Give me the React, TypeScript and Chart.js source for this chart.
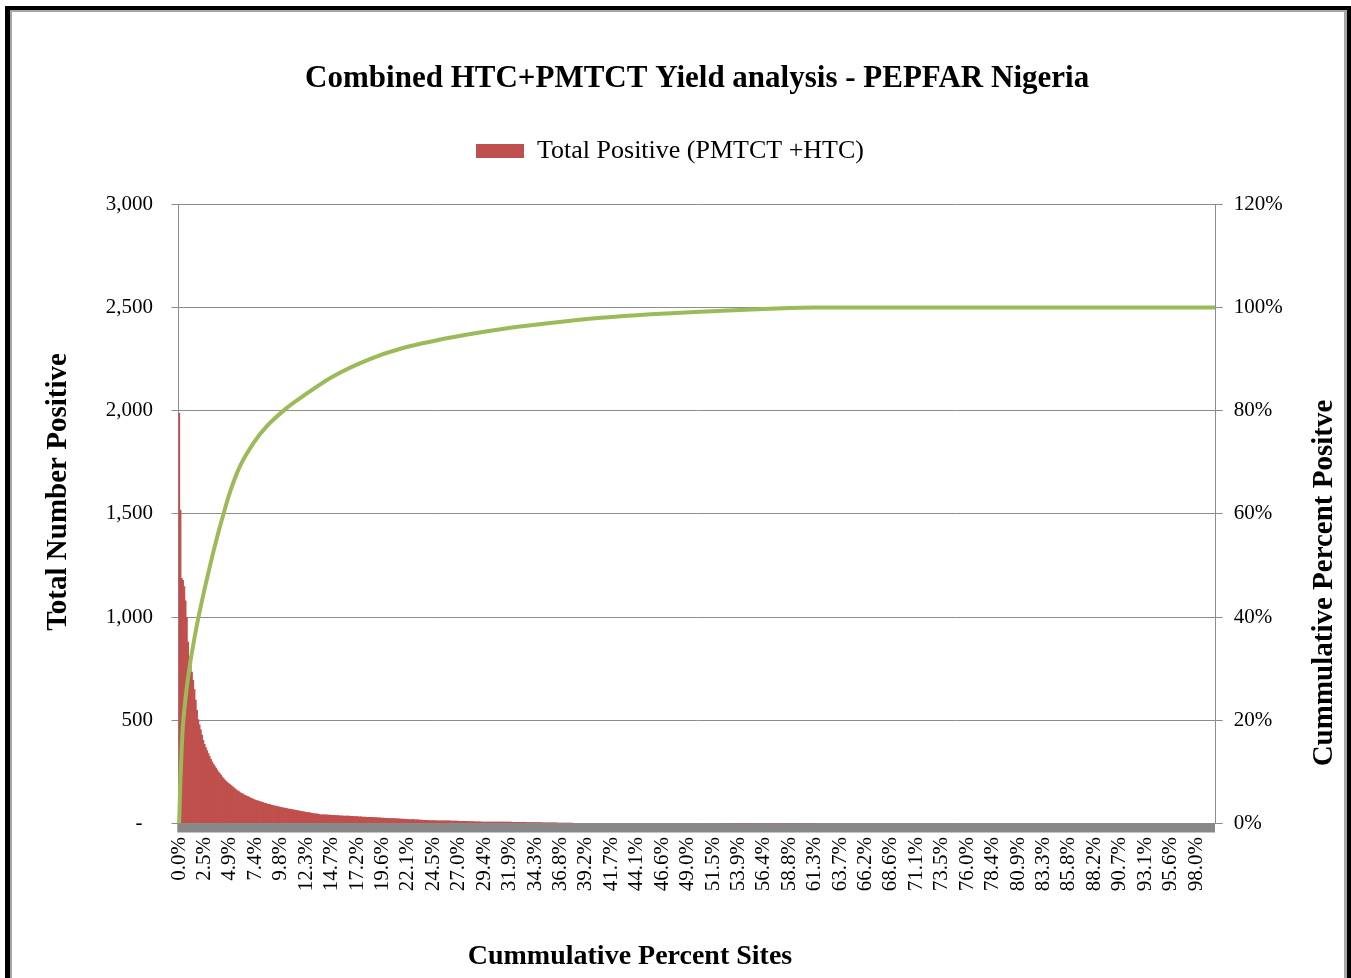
import React, { useEffect, useRef } from 'react';
import { Chart, registerables } from 'chart.js';

Chart.register(...registerables);

// ---------------- data ----------------
const chartTitle = 'Combined HTC+PMTCT Yield analysis - PEPFAR Nigeria';
const barSeriesLabel = 'Total Positive (PMTCT +HTC)';
const lineSeriesLabel = 'Cumulative Percent Positive';
const xAxisTitle = 'Cummulative Percent Sites';
const yAxisTitle = 'Total Number Positive';
const y1AxisTitle = 'Cummulative Percent Positve';

// sites are sorted by number of positives, one category per site
const siteCount = 816;
const labelEvery = 20;

const xTickLabels = [
  '0.0%', '2.5%', '4.9%', '7.4%', '9.8%', '12.3%', '14.7%', '17.2%', '19.6%', '22.1%',
  '24.5%', '27.0%', '29.4%', '31.9%', '34.3%', '36.8%', '39.2%', '41.7%', '44.1%', '46.6%',
  '49.0%', '51.5%', '53.9%', '56.4%', '58.8%', '61.3%', '63.7%', '66.2%', '68.6%', '71.1%',
  '73.5%', '76.0%', '78.4%', '80.9%', '83.3%', '85.8%', '88.2%', '90.7%', '93.1%', '95.6%',
  '98.0%',
];
const leftTickLabels = ['-', '500', '1,000', '1,500', '2,000', '2,500', '3,000'];
const rightTickLabels = ['0%', '20%', '40%', '60%', '80%', '100%', '120%'];

// positives of the highest-yield sites (sites 0..110)
const headPositives = [
  1990, 1520, 1190, 1180, 1150, 1080, 1000, 880, 810, 770,
  735, 695, 650, 600, 550, 505, 480, 455, 430, 405,
  385, 370, 355, 340, 326, 313, 300, 290, 280, 270,
  260, 251, 243, 235, 227, 219, 212, 206, 200, 195,
  190, 185, 180, 175, 170, 165, 160, 156, 152, 148,
  145, 141, 138, 135, 132, 129, 126, 123, 120, 118,
  115, 113, 111, 109, 107, 105, 103, 101, 99, 97,
  95, 94, 92, 90, 89, 87, 86, 84, 83, 81,
  80, 78, 77, 76, 75, 74, 72, 71, 70, 69,
  68, 67, 66, 64, 63, 62, 60, 59, 58, 57,
  56, 55, 54, 53, 52, 51, 50, 49, 48, 47,
  46,
];
// remaining sites: positives and how many sites share that value
const tailPositives = [
  44, 43, 42, 41, 40, 39, 38, 37, 36, 35, 34, 33, 32, 31, 30, 29, 28, 27,
  26, 25, 24, 23, 22, 21, 20, 19, 18, 17, 16, 15, 14, 13, 12, 11, 10,
  9, 8, 7, 6, 5, 4, 3, 2, 1, 0,
];
const tailSiteCounts = [
  3, 3, 3, 3, 3, 3, 3, 3, 3, 3, 3, 3, 3, 3, 3, 3, 3, 3,
  3, 3, 3, 3, 3, 3, 3, 3, 3, 4, 6, 6, 6, 6, 6, 6, 6,
  12, 12, 12, 12, 12, 12, 50, 70, 71, 315,
];

// cumulative percent of positives, read at selected sites
const cumSiteIndex = [
  0, 1, 2, 3, 4, 5, 6, 7, 8, 9, 10, 12, 14, 16, 18, 21, 25, 30, 34, 40,
  48, 59, 69, 85, 95, 120, 150, 174, 214, 253, 292, 332, 371, 410, 450, 500,
  815,
];
const cumPercent = [
  0, 8.5, 14.5, 19, 21.8, 24.2, 26.3, 28.2, 30, 31.6, 33.1, 35.9, 38.5, 40.9, 43.2, 46.5, 50.7, 55.6, 59.2, 64.2,
  69.3, 73.9, 77, 80.6, 82.4, 86.5, 90, 92, 94.2, 95.8, 97, 98, 98.7, 99.2, 99.6, 100,
  100,
];

// ---------------- styles ----------------
const SERIF = "'Liberation Serif', 'Times New Roman', serif";
const BAR_COLOR = '#c0504d';
const LINE_COLOR = '#9bbb59';
const GRID = '#8c8c8c';

export default function App() {
  const canvasRef = useRef<HTMLCanvasElement | null>(null);

  useEffect(() => {
    const positives: number[] = [...headPositives];
    tailPositives.forEach((v, k) => {
      for (let j = 0; j < tailSiteCounts[k]; j++) positives.push(v);
    });
    const siteValues = positives.slice(0, siteCount);
    const sites = siteValues.map((_, i) => i);
    const linePoints = cumSiteIndex.map((s, k) => ({ x: s, y: cumPercent[k] }));

    const axisBand = {
      id: 'axisBand',
      beforeDatasetsDraw(chart: any) {
        const { ctx, chartArea: a } = chart;
        ctx.save();
        ctx.fillStyle = '#888888';
        ctx.fillRect(a.left - 1.2, a.bottom, a.right - a.left + 0.5, 9);
        ctx.restore();
      },
    };

    const axisTitles = {
      id: 'axisTitles',
      afterDraw(chart: any) {
        const ctx = chart.ctx as CanvasRenderingContext2D;
        ctx.save();
        ctx.fillStyle = '#000';
        ctx.textAlign = 'center';
        ctx.textBaseline = 'middle';
        ctx.font = `bold 29px ${SERIF}`;
        ctx.translate(59, 492);
        ctx.rotate(-Math.PI / 2);
        ctx.fillText(yAxisTitle, 0, 0);
        ctx.setTransform(1, 0, 0, 1, 0, 0);
        ctx.translate(1325, 583);
        ctx.rotate(-Math.PI / 2);
        ctx.fillText(y1AxisTitle, 0, 0);
        ctx.setTransform(1, 0, 0, 1, 0, 0);
        ctx.font = `bold 28px ${SERIF}`;
        ctx.fillText(xAxisTitle, 630, 957);
        ctx.restore();
      },
    };

    const tickFont = { family: SERIF, size: 21 };

    const chart = new Chart(canvasRef.current as HTMLCanvasElement, {
      type: 'bar',
      data: {
        labels: sites,
        datasets: [
          {
            type: 'bar',
            label: barSeriesLabel,
            data: siteValues,
            backgroundColor: BAR_COLOR,
            borderWidth: 0,
            barPercentage: 1.6,
            categoryPercentage: 1,
            yAxisID: 'y',
            order: 2,
          } as any,
          {
            type: 'line',
            label: lineSeriesLabel,
            data: linePoints as any,
            borderColor: LINE_COLOR,
            backgroundColor: LINE_COLOR,
            borderWidth: 4,
            pointRadius: 0,
            cubicInterpolationMode: 'monotone',
            yAxisID: 'y1',
            order: 1,
          } as any,
        ],
      },
      plugins: [axisBand, axisTitles],
      options: {
        responsive: false,
        animation: false,
        layout: { padding: { left: 0, right: 11, top: 0, bottom: 0 } },
        plugins: {
          title: {
            display: true,
            text: chartTitle,
            fullSize: false,
            color: '#000',
            font: { family: SERIF, size: 31, weight: 'bold' },
            padding: { top: 60.4, bottom: 30.4 },
          },
          legend: {
            display: true,
            position: 'top',
            labels: {
              filter: (item: any) => item.datasetIndex === 0,
              boxWidth: 48,
              boxHeight: 14,
              padding: 10,
              color: '#000',
              font: { family: SERIF, size: 26 },
            },
          },
          subtitle: {
            display: true,
            text: ' ',
            position: 'top',
            weight: 500,
            font: { size: 12 },
            padding: { top: 0, bottom: 15.9 },
          } as any,
          tooltip: { enabled: false },
        },
        scales: {
          x: {
            type: 'category',
            offset: true,
            grid: { display: false, drawTicks: false },
            border: { display: false },
            ticks: {
              autoSkip: false,
              minRotation: 90,
              maxRotation: 90,
              padding: 13.5,
              color: '#000',
              font: tickFont,
              callback: (_v: any, i: number) => (i % labelEvery === 0 ? xTickLabels[i / labelEvery] ?? '' : ''),
            },
            afterFit: (s: any) => {
              s.height = 154.5;
            },
          },
          y: {
            position: 'left',
            min: 0,
            max: 3000,
            ticks: {
              stepSize: 500,
              padding: 18.5,
              color: '#000',
              font: tickFont,
              callback: (_v: any, i: number) => (leftTickLabels[i] === '-' ? '-  ' : leftTickLabels[i]),
            },
            grid: { color: GRID, lineWidth: 1, tickLength: 7 },
            border: { display: true, color: GRID, width: 1 },
            afterFit: (s: any) => {
              s.width = 178.5;
            },
          },
          y1: {
            position: 'right',
            min: 0,
            max: 120,
            ticks: {
              stepSize: 20,
              padding: 11,
              color: '#000',
              font: tickFont,
              callback: (_v: any, i: number) => rightTickLabels[i],
            },
            grid: { drawOnChartArea: false, color: GRID, lineWidth: 1, tickLength: 7 },
            border: { display: true, color: GRID, width: 1 },
            afterFit: (s: any) => {
              s.width = 124.3;
            },
          },
        },
      } as any,
    });
    return () => chart.destroy();
  }, []);

  return (
    <div style={{ position: 'fixed', left: 0, top: 0, width: 1351, height: 978, overflow: 'hidden', background: '#fff' }}>
      <canvas ref={canvasRef} width={1351} height={978} style={{ position: 'absolute', left: 0, top: 0 }} />
      <div
        style={{
          position: 'absolute', left: 5, top: 6, width: 1346, height: 1200, boxSizing: 'border-box',
          borderLeft: '5px solid #000', borderTop: '4px solid #000', borderRight: '4px solid #000',
          pointerEvents: 'none',
        }}
      >
        <div
          style={{
            width: '100%', height: '100%', boxSizing: 'border-box',
            borderLeft: '2px solid #a6a6a6', borderTop: '2px solid #a6a6a6', borderRight: '3px solid #a6a6a6',
          }}
        />
      </div>
    </div>
  );
}
